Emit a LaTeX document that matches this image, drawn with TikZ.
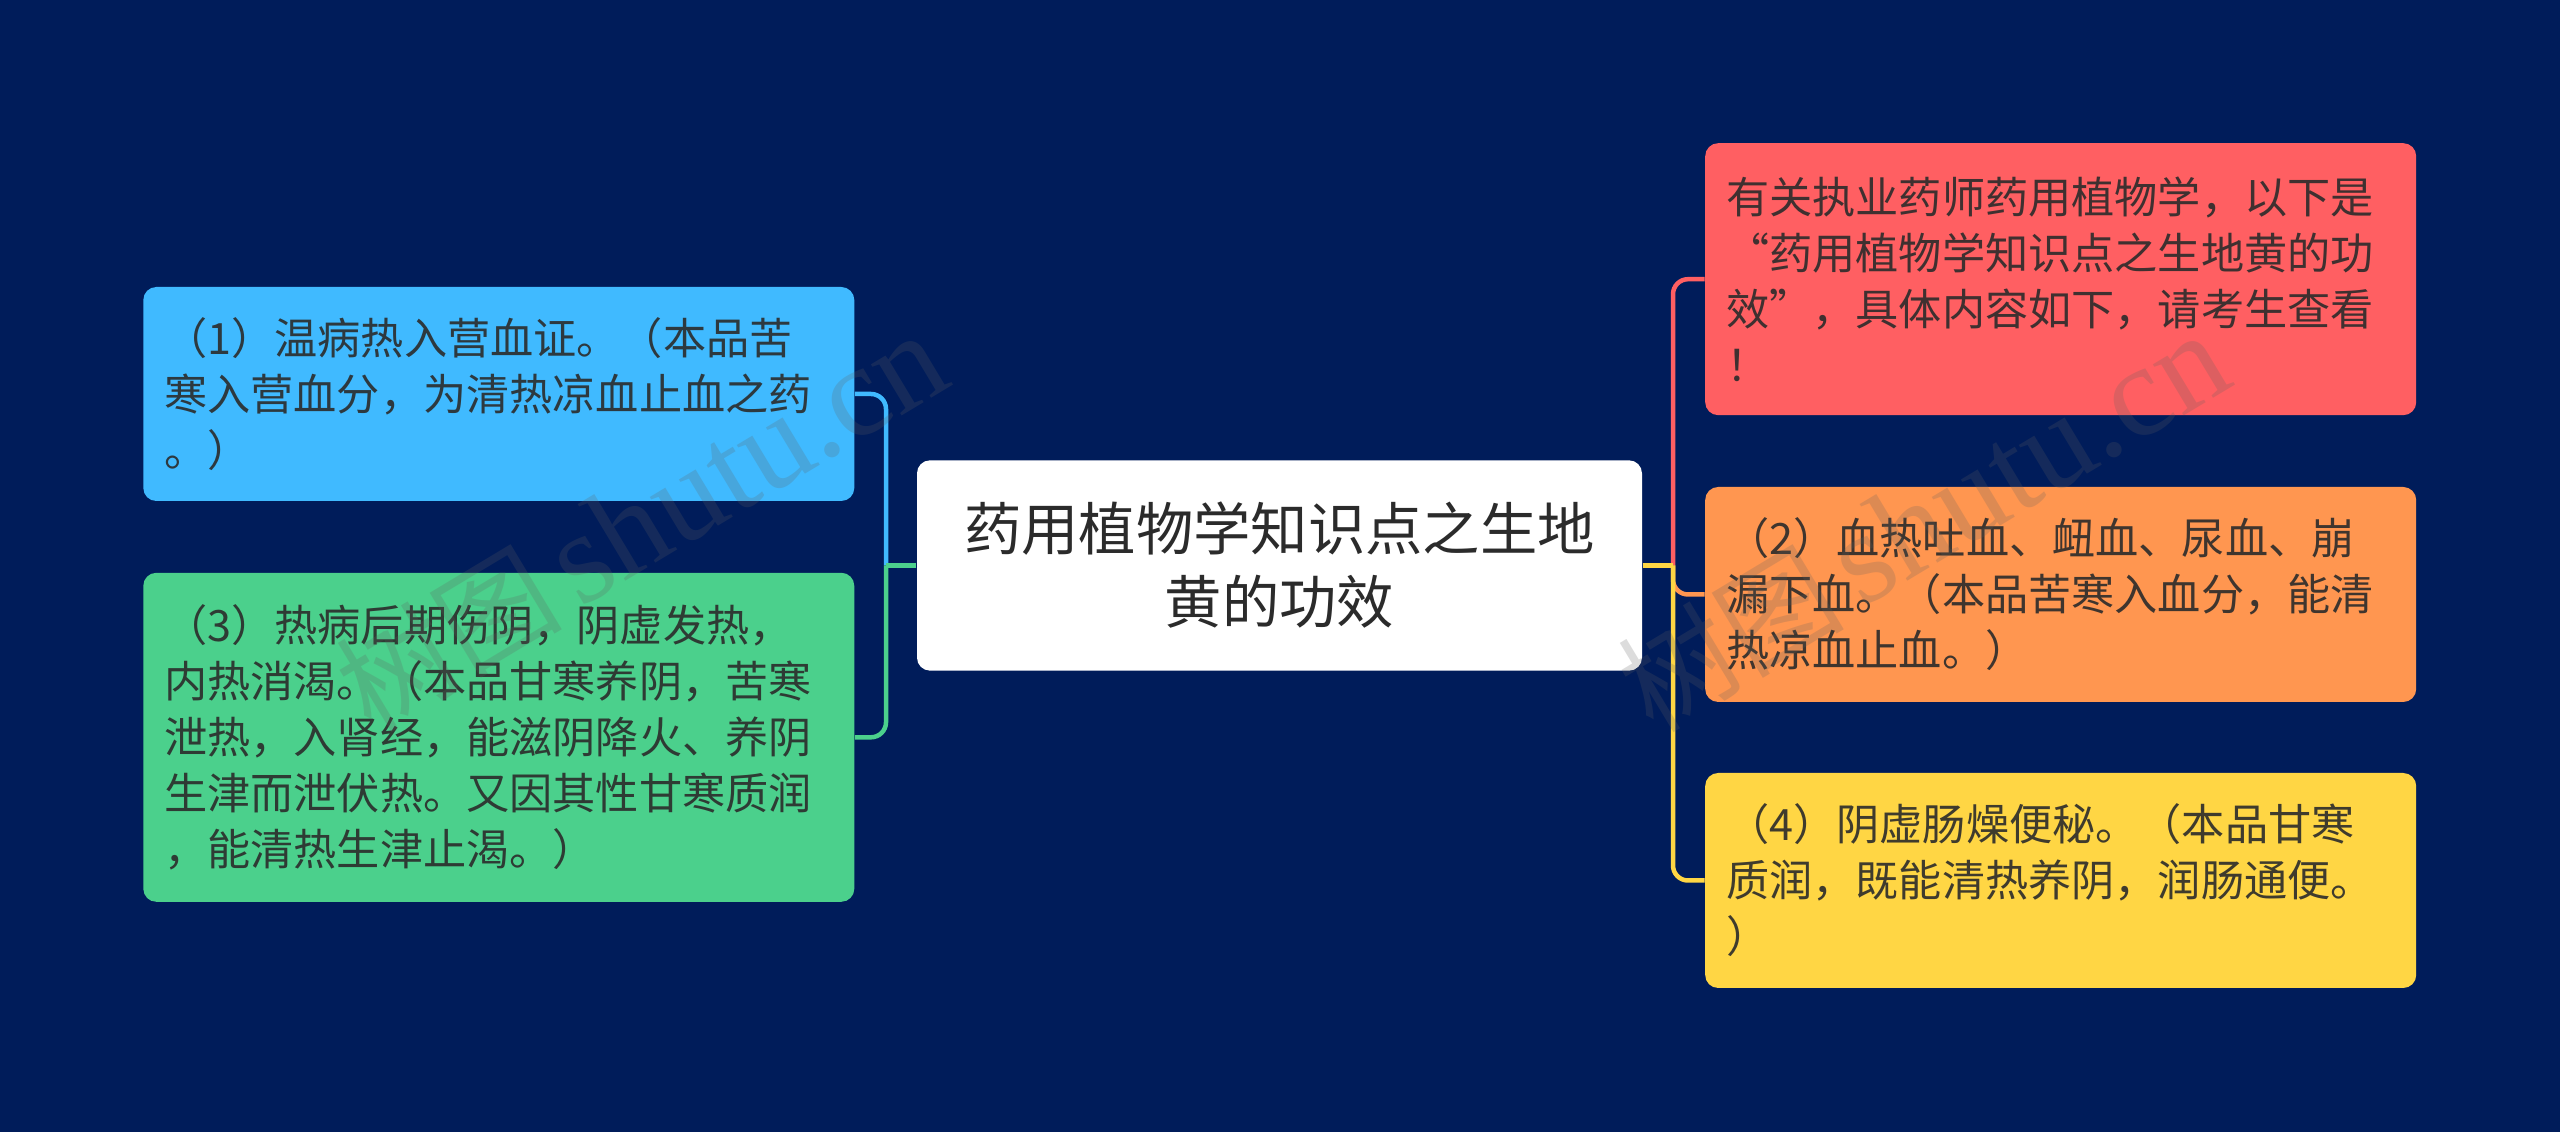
\documentclass[tikz,border=0pt]{standalone}
\usepackage{fontspec}
\setmainfont{Noto Sans CJK SC}
\newfontfamily\wmlatin{Liberation Serif}
\definecolor{navybg}{HTML}{001C5A}
\definecolor{cblue}{HTML}{40BAFF}
\definecolor{cgreen}{HTML}{4BD08C}
\definecolor{cred}{HTML}{FF5F62}
\definecolor{corange}{HTML}{FF9650}
\definecolor{cyellow}{HTML}{FFD644}
\definecolor{inktext}{HTML}{2B2B2B}
\definecolor{wmgray}{HTML}{606060}
\tikzset{
  x=0.3pt,y=-0.3pt,
  topicbox/.style={rectangle,rounded corners=3.9pt,inner sep=0pt,align=left,
    text=inktext,text opacity=0.9,font=\fontsize{12.95}{16.8}\selectfont},
  rootbox/.style={rectangle,rounded corners=3.9pt,inner sep=0pt,align=center,fill=white,
    text=inktext,font=\fontsize{17.2}{21.9}\selectfont,
    minimum width=217.5pt,minimum height=63.1pt,text width=214pt},
  wide/.style={minimum width=213.3pt,text width=200.7pt},
  link/.style={line width=1.35pt,rounded corners=4.5pt},
  wmark/.style={rotate=31,text=wmgray,text opacity=0.22,font=\fontsize{34}{37}\selectfont,inner sep=0pt},
}
\begin{document}
\begin{tikzpicture}
\useasboundingbox (0,0) rectangle (2560,1132);
\fill[navybg] (0,0) rectangle (2560,1132);

\node[rootbox] (root) at (1279.5,565.5) {药用植物学知识点之生地\\黄的功效};

\node[topicbox,wide,fill=cblue,minimum height=64.2pt] (n1) at (498.8,394)
  {（1）温病热入营血证。（本品苦\\寒入营血分，为清热凉血止血之药\\。）};
\node[topicbox,wide,fill=cgreen,minimum height=98.7pt] (n3) at (498.8,737.3)
  {（3）热病后期伤阴，阴虚发热，\\内热消渴。（本品甘寒养阴，苦寒\\泄热，入肾经，能滋阴降火、养阴\\生津而泄伏热。又因其性甘寒质润\\，能清热生津止渴。）};
\node[topicbox,wide,fill=cred,minimum height=81.6pt] (n0) at (2060.7,279.2)
  {有关执业药师药用植物学，以下是\\“药用植物学知识点之生地黄的功\\效”，具体内容如下，请考生查看\\！};
\node[topicbox,wide,fill=corange,minimum height=64.5pt] (n2) at (2060.7,594.5)
  {（2）血热吐血、衄血、尿血、崩\\漏下血。（本品苦寒入血分，能清\\热凉血止血。）};
\node[topicbox,wide,fill=cyellow,minimum height=64.5pt] (n4) at (2060.7,880.5)
  {（4）阴虚肠燥便秘。（本品甘寒\\质润，既能清热养阴，润肠通便。\\）};

\coordinate (tl) at (886,565.5);
\coordinate (tr) at (1673,565.5);

\draw[link,cblue] (tl) -- (tl |- n1.east) -- (n1.east);
\draw[link,cgreen] (tl) -- (tl |- n3.east) -- (n3.east);
\draw[line width=1.35pt,cgreen] (root.west) -- (tl);

\draw[link,cred] (tr) -- (tr |- n0.west) -- (n0.west);
\draw[link,corange] (tr) -- (tr |- n2.west) -- (n2.west);
\draw[link,cyellow] (tr) -- (tr |- n4.west) -- (n4.west);
\draw[line width=1.35pt,cyellow] (root.east) -- (tr);

\node[wmark] (wm1) at (641,522) {树图\hspace{0.15em}{\wmlatin\fontsize{39}{39}\selectfont shutu.cn}};
\node[wmark] (wm2) at (1923,522) {树图\hspace{0.15em}{\wmlatin\fontsize{39}{39}\selectfont shutu.cn}};
\end{tikzpicture}
\end{document}
